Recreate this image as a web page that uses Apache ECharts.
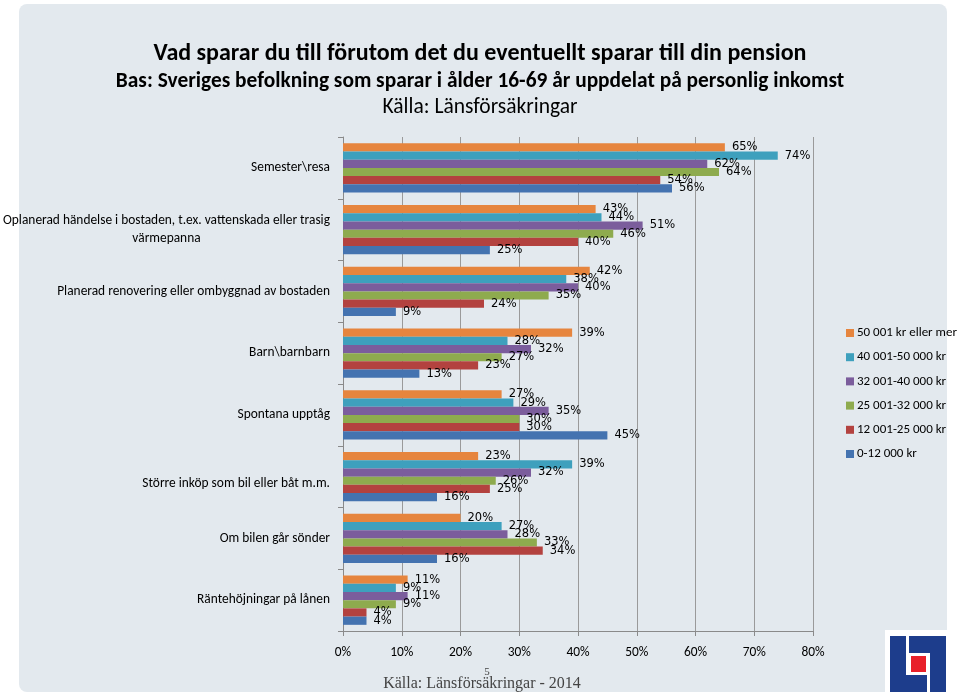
<!DOCTYPE html>
<html>
<head>
<meta charset="utf-8">
<script src="https://cdn.jsdelivr.net/npm/echarts@6/dist/echarts.min.js"></script>
<style>html,body{margin:0;padding:0;background:#fff}#c{width:960px;height:696px}</style>
</head>
<body>
<div id="c"></div>
<script>
const categories = [
  "Semester\\resa",
  "Oplanerad händelse i bostaden, t.ex. vattenskada eller trasig\nvärmepanna",
  "Planerad renovering eller ombyggnad av bostaden",
  "Barn\\barnbarn",
  "Spontana upptåg",
  "Större inköp som bil eller båt m.m.",
  "Om bilen går sönder",
  "Räntehöjningar på lånen"
];
const seriesNames = [
  "50 001 kr eller mer",
  "40 001-50 000 kr",
  "32 001-40 000 kr",
  "25 001-32 000 kr",
  "12 001-25 000 kr",
  "0-12 000 kr"
];
const inc50plus = [65, 43, 42, 39, 27, 23, 20, 11];
const inc40to50 = [74, 44, 38, 28, 29, 39, 27, 9];
const inc32to40 = [62, 51, 40, 32, 35, 32, 28, 11];
const inc25to32 = [64, 46, 35, 27, 30, 26, 33, 9];
const inc12to25 = [54, 40, 24, 23, 30, 25, 34, 4];
const inc0to12 = [56, 25, 9, 13, 45, 16, 16, 4];
const xTicks = [0, 10, 20, 30, 40, 50, 60, 70, 80];

const seriesData = [inc50plus, inc40to50, inc32to40, inc25to32, inc12to25, inc0to12];
const colors = ['#E6853E', '#3EA0BD', '#7B5D9C', '#8EAB4E', '#B3423F', '#4473B0'];
const FONT = 'Carlito, Lato, sans-serif';
const LFS = 13.4;

const chart = echarts.init(document.getElementById('c'));

const option = {
  backgroundColor: '#ffffff',
  animation: false,
  color: colors,
  title: [
    { text: 'Vad sparar du till förutom det du eventuellt sparar till din pension', left: 'center', top: 37,
      textStyle: { fontFamily: FONT, fontSize: 24, fontWeight: 'bold', color: '#000' } },
    { text: 'Bas: Sveriges befolkning som sparar i ålder 16-69 år uppdelat på personlig inkomst', left: 'center', top: 66.5,
      textStyle: { fontFamily: FONT, fontSize: 21.4, fontWeight: 'bold', color: '#000' } },
    { text: 'Källa: Länsförsäkringar', left: 'center', top: 92,
      textStyle: { fontFamily: FONT, fontSize: 21.5, fontWeight: 'normal', color: '#000' } }
  ],
  legend: {
    orient: 'vertical',
    left: 846,
    top: 326.5,
    padding: 0,
    itemWidth: 8,
    itemHeight: 8,
    itemGap: 11.2,
    icon: 'rect',
    data: seriesNames,
    textStyle: { fontFamily: FONT, fontSize: 13, color: '#000', padding: [0, 0, 0, -2] }
  },
  grid: { left: 343, right: 147, top: 137, bottom: 65, containLabel: false, outerBoundsMode: 'none' },
  xAxis: {
    type: 'value',
    min: xTicks[0],
    max: xTicks[xTicks.length - 1],
    interval: 10,
    axisLine: { show: true, lineStyle: { color: '#8a8a8a', width: 1 } },
    axisTick: { show: true, length: 5, lineStyle: { color: '#8a8a8a' } },
    splitLine: { show: true, lineStyle: { color: '#9a9a9a', width: 1 } },
    axisLabel: { formatter: '{value}%', margin: 15, fontFamily: FONT, fontSize: 13.4, color: '#000' }
  },
  yAxis: {
    type: 'category',
    inverse: true,
    data: categories,
    axisLine: { show: true, lineStyle: { color: '#8a8a8a', width: 1 } },
    axisTick: { show: true, length: 5, lineStyle: { color: '#8a8a8a' } },
    splitLine: { show: false },
    axisLabel: {
      margin: 13,
      fontFamily: FONT,
      fontSize: LFS,
      color: '#000',
      lineHeight: 18,
      formatter: function (v) {
        if (v.indexOf('\n') >= 0) {
          const parts = v.split('\n');
          return '{a|' + parts[0] + '}\n{c|' + parts[1] + '}';
        }
        if (v.indexOf('Större') === 0) return '{d|' + v + '}';
        return v;
      },
      rich: {
        a: { fontFamily: FONT, fontSize: LFS, color: '#000', lineHeight: 18 },
        c: { fontFamily: FONT, fontSize: LFS, color: '#000', lineHeight: 18, align: 'center' },
        d: { fontFamily: FONT, fontSize: LFS, color: '#000', lineHeight: 18, padding: [14, 0, 0, 0] }
      }
    }
  },
  series: seriesNames.map((name, i) => ({
    name: name,
    type: 'bar',
    data: seriesData[i],
    barGap: '0%',
    barCategoryGap: '20%',
    itemStyle: { color: colors[i] },
    label: {
      show: true,
      position: 'right',
      distance: 7,
      formatter: '{c}%',
      fontFamily: 'DejaVu Sans, sans-serif',
      fontSize: 11.5,
      color: '#000'
    }
  })),
  graphic: [
    { type: 'rect', z: -100, shape: { x: 19, y: 4, width: 928, height: 688, r: 8 }, style: { fill: '#E3E9EE' } },
    { type: 'rect', z: 100, shape: { x: 885, y: 630, width: 75, height: 66 }, style: { fill: '#ffffff' } },
    { type: 'rect', z: 101, shape: { x: 890, y: 636, width: 16, height: 56 }, style: { fill: '#1D3D8C' } },
    { type: 'rect', z: 101, shape: { x: 890, y: 675, width: 37, height: 17 }, style: { fill: '#1D3D8C' } },
    { type: 'rect', z: 101, shape: { x: 909, y: 636, width: 37, height: 17 }, style: { fill: '#1D3D8C' } },
    { type: 'rect', z: 101, shape: { x: 930, y: 636, width: 16, height: 56 }, style: { fill: '#1D3D8C' } },
    { type: 'rect', z: 101, shape: { x: 911, y: 656, width: 15, height: 16 }, style: { fill: '#E8202A' } },
    { type: 'text', z: 101, x: 487, y: 672, style: { text: '5', fontFamily: 'Liberation Serif, serif', fontSize: 11, fill: '#444', align: 'center', verticalAlign: 'middle' } },
    { type: 'text', z: 101, x: 482, y: 684, style: { text: 'Källa: Länsförsäkringar - 2014', fontFamily: 'Liberation Serif, serif', fontSize: 16, fill: '#444', align: 'center', verticalAlign: 'middle' } }
  ]
};
chart.setOption(option);
</script>
</body>
</html>
